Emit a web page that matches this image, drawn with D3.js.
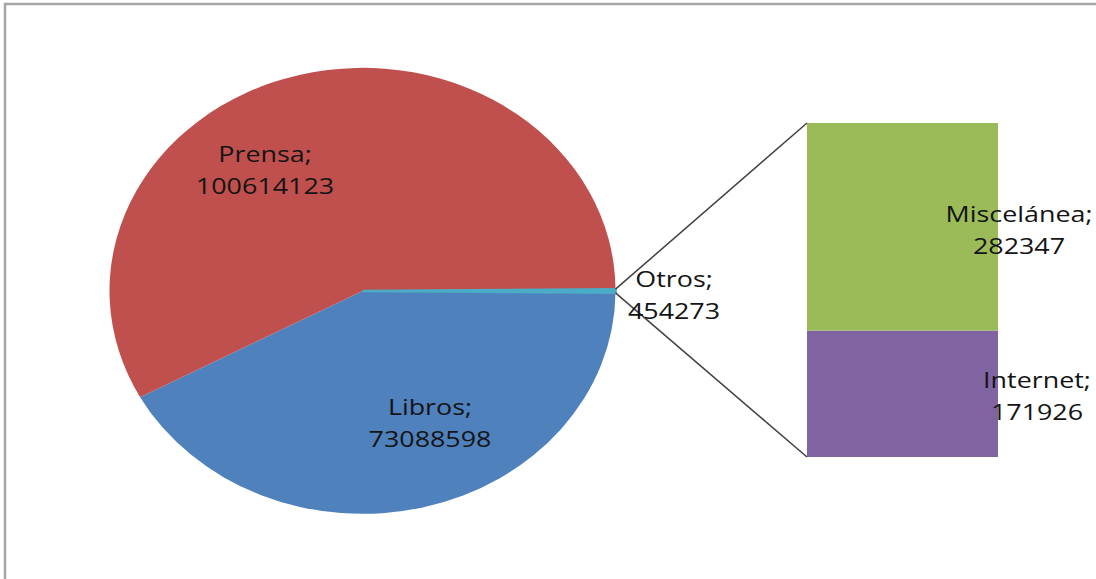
<!DOCTYPE html>
<html>
<head>
<meta charset="utf-8">
<script src="https://cdn.jsdelivr.net/npm/d3@7"></script>
<style>
  body { margin: 0; background: #fff; }
  svg { display: block; }
  .lbl { font-family: "Open Sans", sans-serif; font-size: 21px; fill: #141414; }
</style>
</head>
<body>
<svg class="chart" width="1096" height="579"></svg>
<script>
// datos del gráfico
var pieNames = ["Otros", "Libros", "Prensa"];
var pieValues = [454273, 73088598, 100614123];
var pieColors = ["#4BACC6", "#4F81BD", "#C0504D"];

var barNames = ["Internet", "Miscelánea"];
var barValues = [171926, 282347];
var barColors = ["#8064A2", "#9BBB59"];

var svg = d3.select(".chart");

// marco
svg.append("path")
    .attr("d", "M5,579 V4 H1096")
    .attr("fill", "none")
    .attr("stroke", "#a6a6a6")
    .attr("stroke-width", 2.5);

// pie (elíptico)
var cx = 362.5, cy = 291, rx = 253, ry = 223;
var total = d3.sum(pieValues);
var otrosAngle = 2 * Math.PI * pieValues[0] / total;
var start = Math.PI / 2 - otrosAngle / 2;

var pie = d3.pie().sort(null)
    .startAngle(start)
    .endAngle(start + 2 * Math.PI);
var arcs = pie(pieValues);

var arc = d3.arc().innerRadius(0).outerRadius(1);

var pieG = svg.append("g")
    .attr("transform", "translate(" + cx + "," + cy + ") scale(" + rx + "," + ry + ")");

pieG.selectAll("path")
    .data(arcs).enter()
    .append("path")
    .attr("d", arc)
    .attr("fill", function (d, i) { return pieColors[i]; });

// la porción de Otros es muy fina: dibujar su borde para que se vea
pieG.append("path")
    .attr("d", arc(arcs[0]))
    .attr("fill", pieColors[0])
    .attr("stroke", pieColors[0])
    .attr("stroke-width", 2.5)
    .attr("vector-effect", "non-scaling-stroke");

// barra de Otros
var barTotal = d3.sum(barValues);
var yScale = d3.scaleLinear().domain([0, barTotal]).range([457, 123]);
var xScale = d3.scaleBand().domain(["Otros"]).range([807, 998]).padding(0);

var stacked = [];
var acc = 0;
barValues.forEach(function (v, i) {
    stacked.push({ name: barNames[i], y0: acc, y1: acc + v, color: barColors[i] });
    acc += v;
});

svg.selectAll("rect.bar")
    .data(stacked).enter()
    .append("rect")
    .attr("class", "bar")
    .attr("x", xScale("Otros"))
    .attr("width", xScale.bandwidth())
    .attr("y", function (d) { return yScale(d.y1); })
    .attr("height", function (d) { return yScale(d.y0) - yScale(d.y1); })
    .attr("fill", function (d) { return d.color; });

// líneas de unión
function edgePoint(a) {
    return [cx + rx * Math.sin(a), cy - ry * Math.cos(a)];
}
var pTop = edgePoint(arcs[0].startAngle);
var pBot = edgePoint(arcs[0].endAngle);

svg.append("line")
    .attr("x1", pTop[0]).attr("y1", pTop[1])
    .attr("x2", xScale("Otros")).attr("y2", yScale(barTotal))
    .attr("stroke", "#404040").attr("stroke-width", 1.5);

svg.append("line")
    .attr("x1", pBot[0]).attr("y1", pBot[1])
    .attr("x2", xScale("Otros")).attr("y2", yScale(0))
    .attr("stroke", "#404040").attr("stroke-width", 1.5);

// etiquetas
var fmt = function (v) { return String(v); };
var labelPos = {
    "Prensa": [265, 162],
    "Libros": [430, 415],
    "Otros": [674, 287],
    "Miscelánea": [1019, 222],
    "Internet": [1037, 388]
};

var labels = pieNames.map(function (n, i) { return { name: n, value: pieValues[i] }; })
    .concat(barNames.map(function (n, i) { return { name: n, value: barValues[i] }; }));

var lab = svg.selectAll("g.label")
    .data(labels).enter()
    .append("g")
    .attr("class", "label")
    .attr("transform", function (d) {
        var p = labelPos[d.name];
        return "translate(" + p[0] + "," + p[1] + ") scale(1.28,1)";
    });

lab.append("text")
    .attr("class", "lbl")
    .attr("text-anchor", "middle")
    .text(function (d) { return d.name + ";"; });

lab.append("text")
    .attr("class", "lbl")
    .attr("text-anchor", "middle")
    .attr("y", 32)
    .text(function (d) { return fmt(d.value); });
</script>
</body>
</html>
